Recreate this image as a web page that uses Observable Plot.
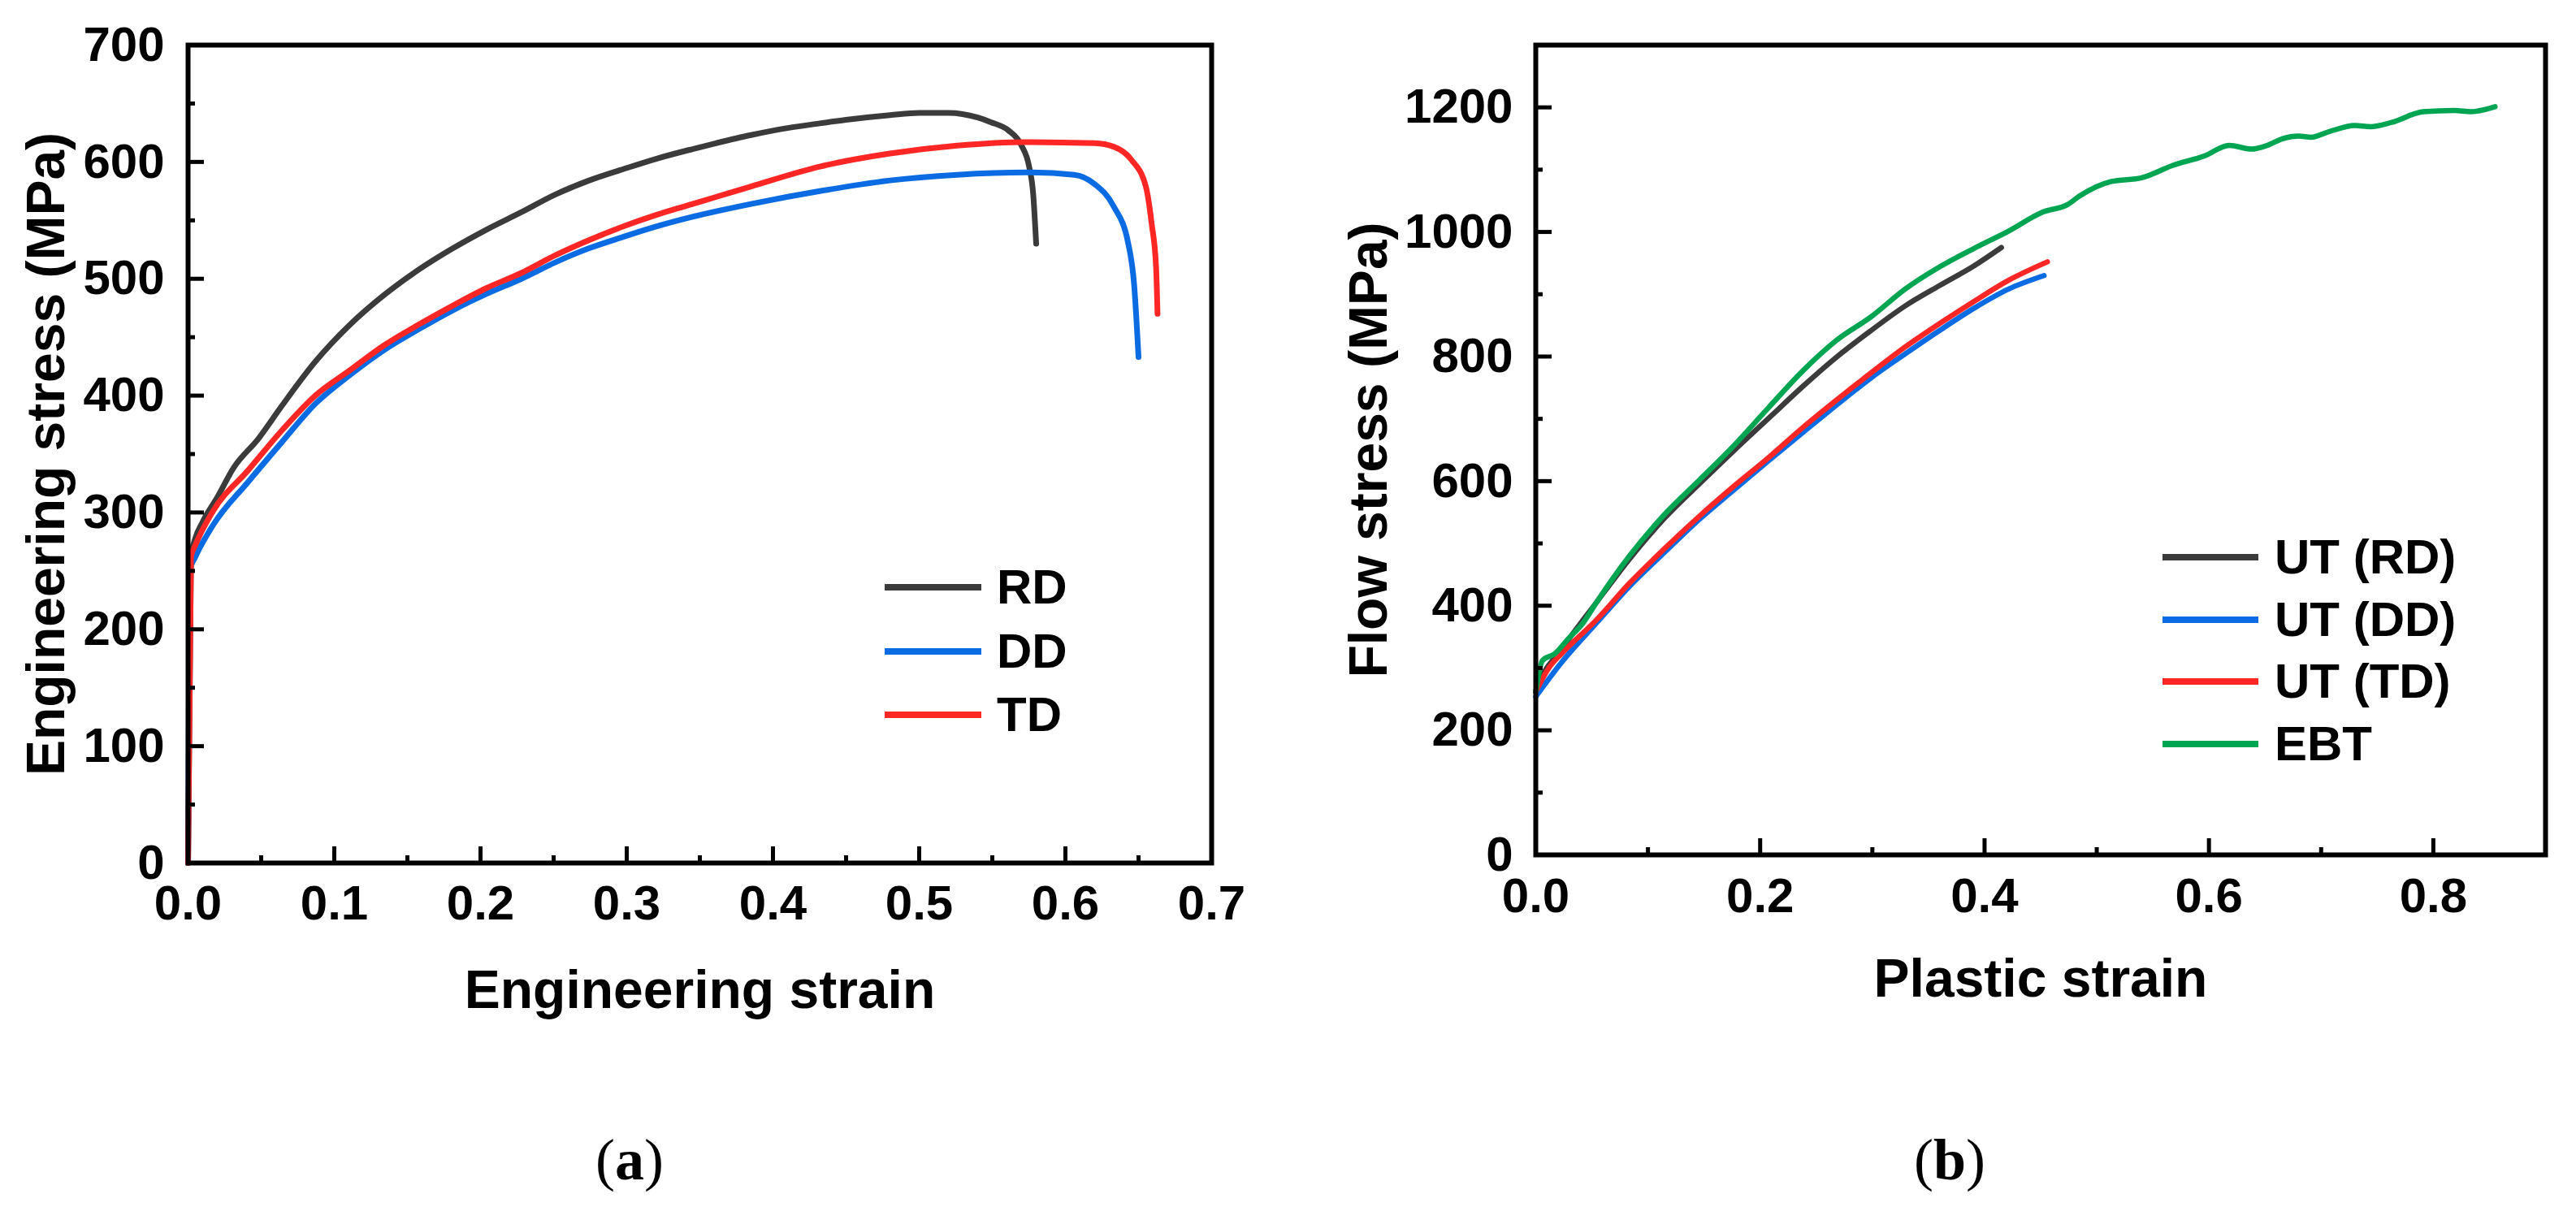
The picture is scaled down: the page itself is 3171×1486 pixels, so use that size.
<!DOCTYPE html>
<html>
<head>
<meta charset="utf-8">
<script src="https://cdn.jsdelivr.net/npm/d3@7"></script>
<script src="https://cdn.jsdelivr.net/npm/@observablehq/plot@0.6"></script>
<style>
  body { margin: 0; background: #fff; }
  #wrap { position: relative; width: 3171px; height: 1486px; background: #fff; overflow: hidden; }
  .abs { position: absolute; }
</style>
</head>
<body>
<div id="wrap"></div>
<script>
// ---------- (a) Engineering stress-strain ----------
const rdStrain = [0, 0.002, 0.005, 0.01, 0.02, 0.031, 0.048, 0.064, 0.087, 0.111, 0.134, 0.158, 0.181, 0.204, 0.228, 0.251, 0.274, 0.298, 0.321, 0.345, 0.361, 0.385, 0.41, 0.432, 0.45, 0.48, 0.5, 0.52, 0.54, 0.549, 0.561, 0.570, 0.575, 0.578, 0.580];
const rdStress = [0, 262, 278, 292, 313, 338, 363, 391, 429, 461, 486, 508, 526, 542, 557, 572, 584, 594, 603, 611, 616, 623, 629, 633, 636, 640, 642, 642, 638, 634, 627, 614, 597, 572, 530];

const ddStrain = [0, 0.001, 0.005, 0.017, 0.041, 0.064, 0.087, 0.111, 0.134, 0.158, 0.181, 0.204, 0.228, 0.251, 0.274, 0.298, 0.321, 0.345, 0.385, 0.432, 0.479, 0.526, 0.573, 0.606, 0.620, 0.633, 0.643, 0.647, 0.650];
const ddStress = [0, 250, 262, 289, 326, 360, 393, 418, 439, 457, 473, 487, 500, 514, 526, 536, 545, 553, 564, 575, 584, 589, 591, 589, 581, 562, 530, 495, 433];

const tdStrain = [0, 0.002, 0.005, 0.017, 0.041, 0.064, 0.087, 0.111, 0.134, 0.158, 0.181, 0.204, 0.228, 0.251, 0.274, 0.298, 0.321, 0.345, 0.361, 0.385, 0.432, 0.479, 0.526, 0.573, 0.620, 0.633, 0.645, 0.655, 0.659, 0.662, 0.663];
const tdStress = [0, 262, 272, 301, 336, 370, 400, 422, 443, 461, 477, 492, 505, 520, 533, 545, 555, 564, 570, 579, 596, 607, 614, 617, 616, 613, 602, 579, 547, 510, 470];

const aXTicks = [0, 0.1, 0.2, 0.3, 0.4, 0.5, 0.6, 0.7];
const aXMinor = [0.05, 0.15, 0.25, 0.35, 0.45, 0.55, 0.65];
const aYTicks = [0, 100, 200, 300, 400, 500, 600, 700];
const aYMinor = [50, 150, 250, 350, 450, 550, 650];

// ---------- (b) Flow stress-plastic strain ----------
const utRdStrain = [0, 0.002, 0.023, 0.054, 0.084, 0.115, 0.146, 0.176, 0.207, 0.238, 0.268, 0.299, 0.329, 0.360, 0.391, 0.415];
const utRdStress = [262, 272, 330, 405, 476, 541, 596, 648, 700, 752, 799, 842, 881, 914, 946, 975];

const utDdStrain = [0, 0.023, 0.054, 0.084, 0.115, 0.146, 0.176, 0.207, 0.238, 0.268, 0.299, 0.329, 0.360, 0.391, 0.421, 0.453];
const utDdStress = [254, 309, 372, 432, 486, 539, 585, 632, 678, 722, 766, 804, 842, 878, 908, 930];

const utTdStrain = [0, 0.012, 0.023, 0.054, 0.084, 0.115, 0.146, 0.176, 0.207, 0.238, 0.268, 0.299, 0.329, 0.360, 0.391, 0.421, 0.456];
const utTdStress = [262, 301, 323, 377, 437, 492, 544, 591, 637, 686, 730, 774, 815, 853, 889, 922, 952];

const ebtStrain = [0, 0.006, 0.017, 0.029, 0.042, 0.054, 0.084, 0.115, 0.146, 0.176, 0.207, 0.238, 0.268, 0.299, 0.329, 0.360, 0.391, 0.421, 0.452, 0.474, 0.485, 0.513, 0.540, 0.568, 0.596, 0.618, 0.638, 0.652, 0.666, 0.680, 0.691, 0.707, 0.730, 0.744, 0.763, 0.791, 0.819, 0.833, 0.855];
const ebtStress = [262, 312, 323, 347, 372, 405, 481, 547, 602, 656, 717, 777, 826, 864, 908, 944, 974, 1001, 1032, 1044, 1058, 1081, 1087, 1107, 1122, 1139, 1133, 1139, 1150, 1154, 1152, 1161, 1171, 1169, 1176, 1193, 1195, 1193, 1201];

const bXTicks = [0, 0.2, 0.4, 0.6, 0.8];
const bXMinor = [0.1, 0.3, 0.5, 0.7];
const bYTicks = [0, 200, 400, 600, 800, 1000, 1200];
const bYMinor = [100, 300, 500, 700, 900, 1100];

const C_BLACK = "#3b3b3b", C_BLUE = "#0a6be3", C_RED = "#ff2626", C_GREEN = "#00a552";
const FONT = '"Liberation Sans", Arial, Helvetica, sans-serif';

const rows = (xs, ys) => xs.map((x, i) => ({x, y: ys[i]}));

const seriesA = [
  {label: "RD", color: C_BLACK, rows: rows(rdStrain, rdStress)},
  {label: "DD", color: C_BLUE, rows: rows(ddStrain, ddStress)},
  {label: "TD", color: C_RED, rows: rows(tdStrain, tdStress)}
];
const seriesB = [
  {label: "UT (RD)", color: C_BLACK, rows: rows(utRdStrain, utRdStress)},
  {label: "UT (DD)", color: C_BLUE, rows: rows(utDdStrain, utDdStress)},
  {label: "UT (TD)", color: C_RED, rows: rows(utTdStrain, utTdStress)},
  {label: "EBT", color: C_GREEN, rows: rows(ebtStrain, ebtStress)}
];

function chart(o) {
  return Plot.plot({
    width: o.width, height: o.height,
    marginLeft: o.ml, marginRight: o.mr, marginTop: o.mt, marginBottom: o.mb,
    style: {fontFamily: FONT, fontSize: "60px", fontWeight: "bold", color: "#000", background: "transparent", overflow: "visible"},
    x: {domain: o.xDomain, label: null},
    y: {domain: o.yDomain, label: null},
    marks: [
      ...o.series.map(s => Plot.line(s.rows, {x: "x", y: "y", stroke: s.color, strokeWidth: o.lw, curve: "monotone-x"})),
      Plot.frame({stroke: "#000", strokeWidth: 6}),
      Plot.axisX({ticks: o.xTicks, tickSize: -20, fill: "none", strokeWidth: 5}),
      Plot.axisX({ticks: o.xMinor, tickSize: -9, fill: "none", strokeWidth: 5}),
      Plot.axisY({ticks: o.yTicks, tickSize: -20, fill: "none", strokeWidth: 5}),
      Plot.axisY({ticks: o.yMinor, tickSize: -9, fill: "none", strokeWidth: 5}),
      Plot.axisX({ticks: o.xTicks, tickSize: 0, tickPadding: o.padX, tickFormat: d3.format(".1f"), stroke: "none"}),
      Plot.axisY({ticks: o.yTicks, tickSize: 0, tickPadding: o.padY, tickFormat: d => String(d), stroke: "none"}),
      Plot.text([o.xTitle], {frameAnchor: "bottom", textAnchor: "middle", lineAnchor: "top", dy: o.xTitleDy, fontSize: 66, text: d => d}),
      Plot.text([o.yTitle], {frameAnchor: "left", rotate: -90, textAnchor: "middle", lineAnchor: "middle", dx: o.yTitleDx, fontSize: 66, text: d => d})
    ]
  });
}

const wrap = document.getElementById("wrap");

const plotA = chart({
  width: 1560, height: 1290, ml: 231, mr: 69, mt: 55, mb: 228,
  xDomain: [0, 0.7], yDomain: [0, 700], series: seriesA, lw: 7,
  xTicks: aXTicks, xMinor: aXMinor, yTicks: aYTicks, yMinor: aYMinor,
  padX: 27, padY: 29, xTitle: "Engineering strain", yTitle: "Engineering stress (MPa)",
  xTitleDy: 132, yTitleDx: -174
});
plotA.classList.add("abs");
plotA.style.left = "0px"; plotA.style.top = "0px";
wrap.appendChild(plotA);

const plotB = chart({
  width: 1591, height: 1290, ml: 310, mr: 38, mt: 55, mb: 238,
  xDomain: [0, 0.9], yDomain: [0, 1300], series: seriesB, lw: 6.5,
  xTicks: bXTicks, xMinor: bXMinor, yTicks: bYTicks, yMinor: bYMinor,
  padX: 28, padY: 28, xTitle: "Plastic strain", yTitle: "Flow stress (MPa)",
  xTitleDy: 128, yTitleDx: -205
});
plotB.classList.add("abs");
plotB.style.left = "1580px"; plotB.style.top = "0px";
wrap.appendChild(plotB);

function legend(series, x1, len, textX, y0, step) {
  series.forEach((s, i) => {
    const y = y0 + i * step;
    const ln = document.createElement("div");
    ln.className = "abs";
    ln.style.cssText = `left:${x1}px;top:${y - 4}px;width:${len}px;height:8px;background:${s.color};`;
    const tx = document.createElement("div");
    tx.className = "abs";
    tx.style.cssText = `left:${textX}px;top:${y}px;transform:translateY(-50%);font-family:${FONT};font-weight:bold;font-size:60px;line-height:1;color:#000;white-space:nowrap;`;
    tx.textContent = s.label;
    wrap.append(ln, tx);
  });
}
legend(seriesA, 1089, 119, 1227, 723, 78.5);
legend(seriesB, 2662, 118, 2800, 686, 76.7);

function caption(letter, cx) {
  const d = document.createElement("div");
  d.className = "abs";
  d.style.cssText = `left:${cx - 150}px;top:1392px;width:300px;text-align:center;font-family:"Liberation Serif","Times New Roman",serif;font-size:72px;line-height:1;color:#000;`;
  d.innerHTML = `(<b>${letter}</b>)`;
  wrap.appendChild(d);
}
caption("a", 775);
caption("b", 2400);
</script>
</body>
</html>
